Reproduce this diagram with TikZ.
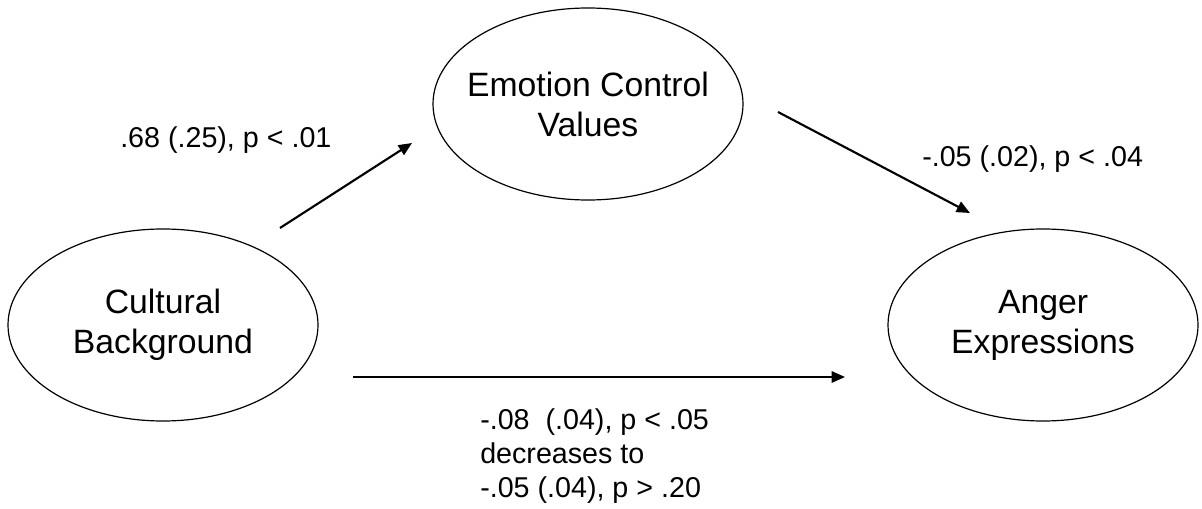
\documentclass[tikz,border=0pt]{standalone}
\usepackage{fontspec}
\setmainfont{Liberation Sans}
\usetikzlibrary{arrows.meta,positioning,shapes.geometric}

\begin{document}
\begin{tikzpicture}[
      x=0.75pt, y=-0.75pt,
      latent/.style={ellipse,draw,line width=0.9pt,minimum width=232.5pt,minimum height=144pt,inner sep=-12pt,align=center,font=\fontsize{25.3pt}{30pt}\selectfont},
      coef/.style={inner sep=0pt,align=left,font=\fontsize{21.5pt}{25.5pt}\selectfont},
      effect/.style={->,line width=1.6pt},
      >={Triangle[length=10pt,width=8.5pt]}
    ]
    \useasboundingbox (0,0) rectangle (1202,509);

    \node[latent] (CB) at (163,325) {Cultural\\Background};
    \node[latent] (ECV) at (588,104) {Emotion Control\\Values};
    \node[latent] (AE) at (1043,325) {Anger\\Expressions};

    \coordinate (CBout) at (280,228);
    \coordinate (ECVin) at (412,143);
    \coordinate (ECVout) at (778,112);
    \coordinate (AEin) at (970,213);
    \coordinate (CBdir) at (353,377);
    \coordinate (AEdir) at (845,377);

    \draw[effect] (CBout) -- (ECVin);
    \draw[effect] (ECVout) -- (AEin);
    \draw[effect] (CBdir) -- (AEdir);

    \node[coef,anchor=base west] (a) at (120,148) {.68 (.25), p < .01};
    \node[coef,anchor=base west] (b) at (922,167) {-.05 (.02), p < .04};
    \node[coef,anchor=base west] (c) at (480,497) {-.08~ (.04), p < .05\\decreases to\\-.05 (.04), p > .20};
  \end{tikzpicture}
\end{document}
